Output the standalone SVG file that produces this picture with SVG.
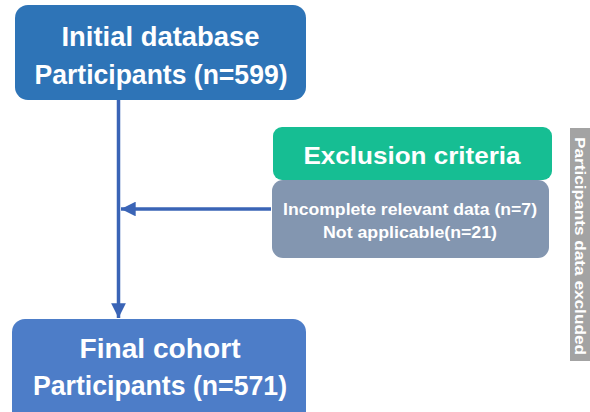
<svg xmlns="http://www.w3.org/2000/svg" width="590" height="412" viewBox="0 0 590 412">
  <defs>
    <marker id="arrow" viewBox="0 0 10 10" refX="10" refY="5" markerWidth="4.2" markerHeight="4.2" orient="auto" markerUnits="strokeWidth">
      <path d="M0,0 L10,5 L0,10 Z" fill="#3A64B6"/>
    </marker>
  </defs>
  <style>
    .t { font-family: "Liberation Sans", Arial, sans-serif; font-weight: bold; fill: #ffffff; text-anchor: middle; }
    .big { font-size: 27px; }
    .mid { font-size: 24px; }
    .small { font-size: 16px; }
    .side { font-size: 15.5px; }
    .conn { stroke: #3A64B6; stroke-width: 3.5; fill: none; }
  </style>

  <g id="connectors">
    <line class="conn" x1="118.5" y1="100" x2="118.5" y2="318" marker-end="url(#arrow)"/>
    <line class="conn" x1="271" y1="209" x2="121" y2="209" marker-end="url(#arrow)"/>
  </g>

  <g id="initial-database">
    <rect x="15" y="5" width="291" height="95" rx="13" fill="#2E74B7"/>
    <text class="t big" x="160.5" y="46" textLength="198" lengthAdjust="spacingAndGlyphs">Initial database</text>
    <text class="t big" x="161" y="84" textLength="253" lengthAdjust="spacingAndGlyphs">Participants (n=599)</text>
  </g>

  <g id="exclusion-criteria">
    <rect x="273" y="127" width="279" height="53" rx="9" fill="#16BE93"/>
    <text class="t mid" x="412" y="163.5" textLength="217" lengthAdjust="spacingAndGlyphs">Exclusion criteria</text>
  </g>

  <g id="excluded-reasons">
    <rect x="272" y="180" width="277" height="78" rx="11" fill="#8396B0"/>
    <text class="t small" x="410" y="214.5" textLength="254" lengthAdjust="spacingAndGlyphs">Incomplete relevant data (n=7)</text>
    <text class="t small" x="410" y="237.5" textLength="174" lengthAdjust="spacingAndGlyphs">Not applicable(n=21)</text>
  </g>

  <g id="excluded-label">
    <rect x="570" y="128" width="22" height="233" fill="#A3A3A3"/>
    <text class="t side" transform="translate(575,246) rotate(90)" textLength="218" lengthAdjust="spacingAndGlyphs">Participants data excluded</text>
  </g>

  <g id="final-cohort">
    <rect x="12" y="319" width="294" height="110" rx="13" fill="#4D7DC8"/>
    <text class="t big" x="160" y="358" textLength="161" lengthAdjust="spacingAndGlyphs">Final cohort</text>
    <text class="t big" x="160" y="395" textLength="254" lengthAdjust="spacingAndGlyphs">Participants (n=571)</text>
  </g>
</svg>
